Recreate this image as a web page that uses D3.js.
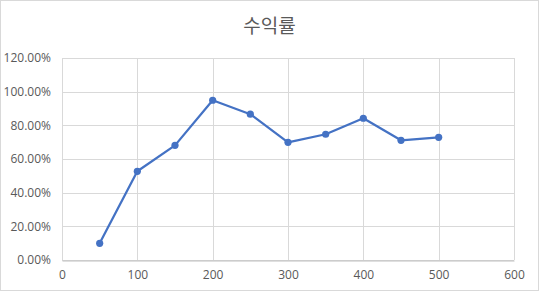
<!DOCTYPE html>
<html lang="ko">
<head>
<meta charset="utf-8">
<title>수익률</title>
<script src="https://cdn.jsdelivr.net/npm/d3@7"></script>
<style>
  body { margin: 0; background: #fff; }
  svg { display: block; font-family: "Noto Sans CJK KR", "Noto Sans", sans-serif; }
</style>
</head>
<body>
<svg id="chart" width="539" height="291"></svg>
<script>
// data
var title = "수익률";
var xValues = [50, 100, 150, 200, 250, 300, 350, 400, 450, 500];
var yValues = [0.099, 0.527, 0.681, 0.949, 0.866, 0.699, 0.747, 0.842, 0.711, 0.729];
var xTicks = [0, 100, 200, 300, 400, 500, 600];
var yTicks = [0, 0.2, 0.4, 0.6, 0.8, 1.0, 1.2];

var w = 539, h = 291;
var margin = { top: 58, right: 25, bottom: 31, left: 62 };

var svg = d3.select("#chart");

// chart border
svg.append("rect")
    .attr("x", 0.5).attr("y", 0.5)
    .attr("width", w - 1).attr("height", h - 1)
    .attr("fill", "#fff")
    .attr("stroke", "#d9d9d9");

var x = d3.scaleLinear().domain([0, 600]).range([margin.left, w - margin.right]);
var y = d3.scaleLinear().domain([0, 1.2]).range([h - margin.bottom, margin.top]);

// gridlines
svg.append("g").selectAll("line")
    .data(yTicks)
    .enter().append("line")
    .attr("x1", x(0)).attr("x2", x(600))
    .attr("y1", function(d) { return Math.round(y(d)) + 0.5; })
    .attr("y2", function(d) { return Math.round(y(d)) + 0.5; })
    .attr("stroke", "#d9d9d9");

svg.append("g").selectAll("line")
    .data(xTicks)
    .enter().append("line")
    .attr("x1", function(d) { return Math.round(x(d)) + 0.5; })
    .attr("x2", function(d) { return Math.round(x(d)) + 0.5; })
    .attr("y1", y(0)).attr("y2", y(1.2))
    .attr("stroke", "#d9d9d9");

// axis labels
var fmt = d3.format(".2%");
var xAxis = d3.axisBottom(x).tickValues(xTicks).tickSize(0).tickPadding(10);
var yAxis = d3.axisLeft(y).tickValues(yTicks).tickFormat(fmt).tickSize(0).tickPadding(11);

var gx = svg.append("g")
    .attr("transform", "translate(0," + (Math.round(y(0)) + 0.5) + ")")
    .call(xAxis);
var gy = svg.append("g")
    .attr("transform", "translate(" + x(0) + ",0)")
    .call(yAxis);

gx.select(".domain").attr("stroke", "#bfbfbf");
gy.select(".domain").remove();
svg.selectAll(".tick text")
    .attr("fill", "#595959")
    .style("font-size", "12px")
    .style("font-family", "'Segoe UI', 'Open Sans', 'Noto Sans', sans-serif");

// line
var line = d3.line()
    .x(function(d, i) { return x(xValues[i]); })
    .y(function(d) { return y(d); });

svg.append("path")
    .datum(yValues)
    .attr("d", line)
    .attr("fill", "none")
    .attr("stroke", "#4472c4")
    .attr("stroke-width", 2.25)
    .attr("stroke-linejoin", "round");

svg.append("g").selectAll("circle")
    .data(yValues)
    .enter().append("circle")
    .attr("cx", function(d, i) { return x(xValues[i]); })
    .attr("cy", function(d) { return y(d); })
    .attr("r", 3.6)
    .attr("fill", "#4472c4");

// title
svg.append("text")
    .attr("x", w / 2)
    .attr("y", 33)
    .attr("text-anchor", "middle")
    .attr("fill", "#595959")
    .style("font-size", "19px")
    .text(title);
</script>
</body>
</html>
